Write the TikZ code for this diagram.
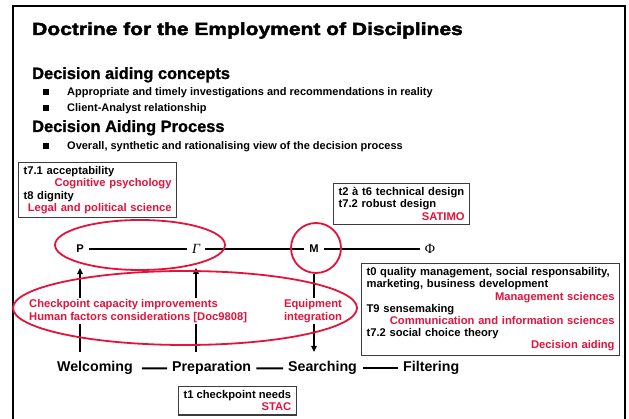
\documentclass[tikz,border=0pt]{standalone}
\usepackage{fontspec}
\setmainfont{Liberation Sans}
\newfontfamily\titlefont[FakeStretch=1.2,FakeBold=2.5]{Liberation Sans Bold}
\newfontfamily\headfont[FakeBold=1.2]{Liberation Sans Bold}
\newfontfamily\serifx{Liberation Serif}
\usetikzlibrary{arrows.meta}
\definecolor{dred}{RGB}{226,20,60}
\definecolor{boxgray}{RGB}{60,60,60}
\tikzset{
  small/.style={font=\bfseries\fontsize{11.2}{12.2}\selectfont},
  infobox/.style={small, draw=boxgray, line width=1.1pt, inner xsep=5pt, inner ysep=4pt, align=left, anchor=north west},
  headtxt/.style={font=\headfont\fontsize{16.4}{18}\selectfont, inner sep=0pt, anchor=base west},
  bultxt/.style={font=\bfseries\fontsize{11}{13}\selectfont, inner sep=0pt, anchor=base west},
  sq/.style={fill=black, inner sep=0pt, minimum size=6pt},
  rowlbl/.style={font=\bfseries\fontsize{11.2}{13}\selectfont, inner xsep=5pt, inner ysep=0pt},
  greeklbl/.style={font=\serifx\fontsize{14}{15}\selectfont, inner xsep=4.5pt, inner ysep=0pt},
  steplbl/.style={font=\bfseries\fontsize{14.2}{16}\selectfont, inner sep=0pt, anchor=base west},
  conn/.style={line width=1.9pt},
  arr/.style={line width=1.9pt, -{Triangle[length=6pt,width=5.5pt]}},
  redtxt/.style={font=\bfseries\fontsize{11.2}{13}\selectfont, text=dred, fill=white, inner sep=1.5pt},
  redring/.style={draw=dred, line width=1.8pt},
}
\newcommand\rt[1]{\hspace*{\fill}\textcolor{dred}{#1}}
\begin{document}
\begin{tikzpicture}[x=1pt,y=-1pt]
\useasboundingbox (0,0) rectangle (629,419);
\fill[white] (0,0) rectangle (629,419);
\draw[line width=1.5pt] (13,419) -- (13,6) -- (625,6) -- (625,419);

\node[anchor=base west, inner sep=0pt, font=\titlefont\fontsize{17.5}{20}\selectfont] (title) at (32,35) {Doctrine for the Employment of Disciplines};
\node[headtxt] (h1) at (32,79) {Decision aiding concepts};
\node[sq] (b1) at (46,92) {};
\node[bultxt] (t1) at (67,96) {Appropriate and timely investigations and recommendations in reality};
\node[sq] (b2) at (46,108) {};
\node[bultxt] (t2) at (67,112) {Client-Analyst relationship};
\node[headtxt] (h2) at (32,132) {Decision Aiding Process};
\node[sq] (b3) at (46,146) {};
\node[bultxt] (t3) at (67,150) {Overall, synthetic and rationalising view of the decision process};

\node[infobox, text width=148pt] (box1) at (18,162) {t7.1 acceptability\\\rt{Cognitive psychology}\\t8 dignity\\\rt{Legal and political science}};
\node[infobox, text width=126pt] (box2) at (333,183) {t2 à t6 technical design\\t7.2 robust design\\\rt{SATIMO}};
\node[infobox, text width=248pt] (box3) at (361,263) {t0 quality management, social responsability,\\marketing, business development\\\rt{Management sciences}\\T9 sensemaking\\\rt{Communication and information sciences}\\t7.2 social choice theory\\\rt{Decision aiding}};
\node[infobox, align=right] (box4) at (178,386) {t1 checkpoint needs\\\textcolor{dred}{STAC}};

\node[rowlbl] (P) at (80,249) {P};
\node[greeklbl] (G) at (196,249) {\itshape Γ};
\node[rowlbl] (M) at (314,249) {M};
\node[greeklbl] (F) at (430,249) {Φ};
\draw[conn] (P) -- (G);
\draw[conn] (G) -- (M);
\draw[conn] (M) -- (F);
\node[circle, draw=dred, line width=1.8pt, minimum size=50pt, inner sep=0pt] (Mc) at (316,248) {};

\node[steplbl] (W) at (57,372) {Welcoming};
\node[steplbl] (Pr) at (172,372) {Preparation};
\node[steplbl] (S) at (288,372) {Searching};
\node[steplbl] (Fi) at (403,372) {Filtering};
\draw[conn, shorten <=9pt, shorten >=5pt] (W.east) -- (Pr.west);
\draw[conn, shorten <=5pt, shorten >=5pt] (Pr.east) -- (S.west);
\draw[conn, shorten <=6pt, shorten >=5pt] (S.east) -- (Fi.west);

\draw[arr, shorten <=9.6pt, shorten >=15pt] (W.north -| P.south) -- (P.south);
\draw[arr, shorten <=9.8pt, shorten >=14pt] (Pr.north -| G.south) -- (G.south);
\draw[arr, shorten >=9.6pt] (Mc.south -| M.south) -- (S.north -| M.south);

\node[redtxt, align=left, anchor=north west] (cap) at (27.5,297.5) {Checkpoint capacity improvements\\Human factors considerations [Doc9808]};
\node[redtxt, align=center, anchor=north] (eq) at (313,297.5) {Equipment\\integration};

\draw[redring] (140,245) ellipse [x radius=85pt, y radius=25pt];
\draw[redring] (185,308) ellipse [x radius=172pt, y radius=37pt];
\end{tikzpicture}
\end{document}
